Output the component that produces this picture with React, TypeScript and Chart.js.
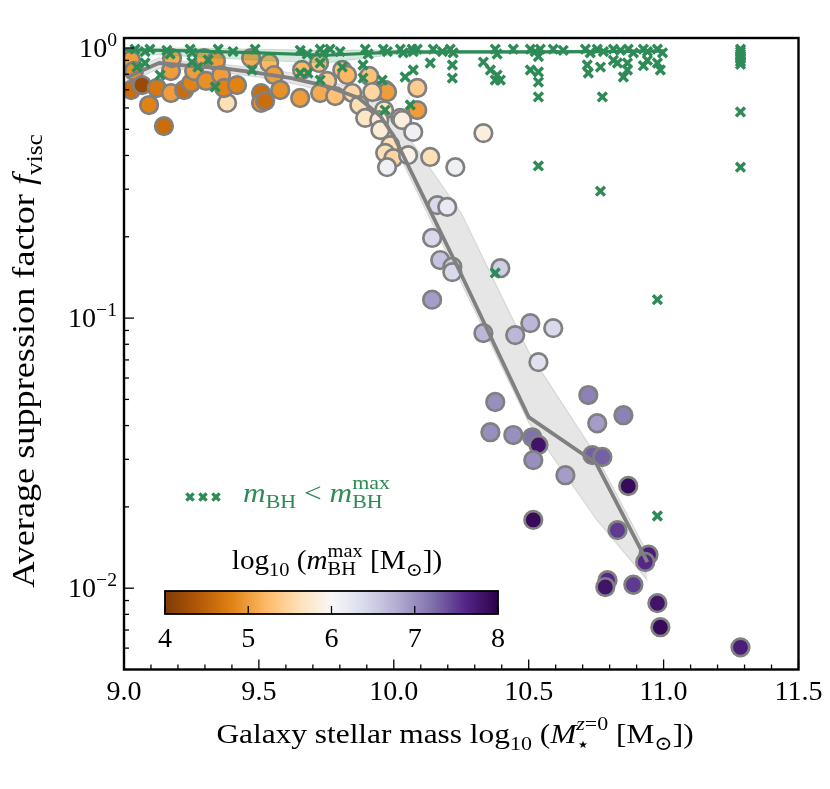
import React, { useEffect, useRef } from 'react';
import { Chart, registerables } from 'chart.js';
Chart.register(...registerables);

const SERIF = '"Liberation Serif", "DejaVu Serif", serif';
const GREEN = '#2e8b57';
const GRAY = '#808080';

// ---- circles: galaxies coloured by log10 m_BH^max ----
const massX = [9.026, 9.037, 9.026, 9.067, 9.093, 9.122, 9.148, 9.174, 9.174, 9.178,
  9.223, 9.249, 9.26, 9.297, 9.304, 9.341, 9.36, 9.382, 9.371, 9.419,
  9.471, 9.508, 9.508, 9.538, 9.556, 9.523, 9.579, 9.653, 9.66, 9.723,
  9.753, 9.727, 9.783, 9.809, 9.827, 9.846, 9.872, 9.909, 9.938, 9.968,
  9.964, 10.024, 9.894, 9.946, 9.975, 9.92, 10.087, 10.087, 10.031, 10.072,
  10.332, 9.95, 9.987, 9.968, 9.998, 10.053, 10.135, 9.975, 10.228, 10.161,
  10.198, 10.142, 10.172, 10.217, 10.217, 10.395, 10.142, 10.332, 10.45, 10.506,
  10.591, 10.536, 10.376, 10.721, 10.851, 10.754, 10.358, 10.443, 10.513, 10.536,
  10.517, 10.736, 10.773, 10.636, 10.869, 10.517, 10.829, 10.944, 10.932, 10.792,
  10.784, 10.888, 10.977, 10.988, 11.285];
const fviscY = [0.903, 0.822, 0.699, 0.729, 0.615, 0.711, 0.514, 0.681, 0.822, 0.918,
  0.699, 0.742, 0.822, 0.918, 0.755, 0.895, 0.794, 0.626, 0.711, 0.729,
  0.918, 0.681, 0.626, 0.88, 0.794, 0.636, 0.699, 0.653, 0.829, 0.88,
  0.755, 0.681, 0.664, 0.829, 0.794, 0.681, 0.615, 0.788, 0.693, 0.699,
  0.589, 0.551, 0.551, 0.541, 0.687, 0.687, 0.711, 0.589, 0.541, 0.489,
  0.484, 0.497, 0.437, 0.409, 0.391, 0.401, 0.395, 0.362, 0.362, 0.262,
  0.258, 0.198, 0.164, 0.155, 0.148, 0.153, 0.117, 0.088, 0.0865, 0.0958,
  0.0918, 0.0687, 0.0489, 0.0519, 0.0437, 0.0408, 0.0378, 0.0369, 0.0362, 0.0339,
  0.0298, 0.0311, 0.0306, 0.0262, 0.0239, 0.0179, 0.0164, 0.0133, 0.0125, 0.0107,
  0.0101, 0.0103, 0.0088, 0.00717, 0.00604];
const logMbhMax = [5.0, 4.9, 4.6, 4.2, 4.8, 4.7, 4.6, 5.0, 5.0, 5.1,
  4.6, 4.8, 5.0, 5.1, 4.9, 5.0, 5.0, 5.6, 4.8, 4.8,
  5.1, 4.6, 4.9, 5.2, 5.0, 4.6, 4.9, 5.0, 5.2, 5.3,
  5.4, 5.1, 5.3, 5.3, 5.2, 5.5, 5.6, 5.3, 5.4, 5.0,
  5.7, 5.9, 5.7, 5.8, 5.0, 5.5, 5.4, 5.0, 5.85, 6.1,
  5.85, 5.8, 5.6, 5.6, 5.5, 5.9, 5.6, 6.1, 6.1, 6.4,
  6.2, 6.4, 6.6, 6.5, 6.4, 6.5, 6.9, 6.7, 6.7, 6.7,
  6.4, 6.3, 7.0, 7.1, 7.1, 6.9, 7.0, 7.0, 7.2, 7.8,
  7.0, 7.3, 7.3, 6.9, 7.9, 7.9, 7.5, 7.7, 7.6, 7.6,
  7.8, 7.5, 7.8, 7.9, 7.7];

// ---- green crosses: m_BH < m_BH^max ----
const capX = [9.041, 9.078, 9.096, 9.159, 9.171, 9.245, 9.252, 9.349, 9.404, 9.486,
  9.653, 9.679, 9.727, 9.738, 9.764, 9.801, 9.894, 9.905, 9.961, 9.976,
  10.024, 10.035, 10.068, 10.072, 10.087, 10.146, 10.18, 10.209, 10.22, 10.376,
  10.383, 10.443, 10.506, 10.524, 10.543, 10.536, 10.591, 10.628, 10.71, 10.728,
  10.754, 10.777, 10.814, 10.84, 10.869, 10.888, 10.925, 10.94, 10.977, 10.996];
const capY = [0.99, 0.97, 0.99, 0.98, 0.95, 0.99, 0.96, 0.99, 0.97, 0.99,
  0.98, 0.95, 0.99, 0.96, 0.99, 0.97, 0.99, 0.95, 0.99, 0.97,
  0.99, 0.96, 0.99, 0.97, 0.99, 0.99, 0.97, 0.99, 0.96, 0.99,
  0.95, 0.99, 0.99, 0.97, 0.99, 0.93, 0.99, 0.98, 0.99, 0.96,
  0.99, 0.97, 0.99, 0.98, 0.99, 0.96, 0.99, 0.97, 0.99, 0.96];
const lowX = [9.048, 9.078, 9.134, 9.252, 9.274, 9.312, 9.338, 9.475, 9.653, 9.682,
  9.727, 9.727, 9.809, 9.886, 9.886, 9.957, 9.968, 10.042, 10.061, 10.072,
  10.135, 10.217, 10.217, 10.332, 10.358, 10.383, 10.395, 10.376, 10.506, 10.536,
  10.536, 10.536, 10.717, 10.721, 10.766, 10.773, 10.829, 10.866, 10.866, 10.851,
  10.977, 10.988, 10.814, 10.925, 10.94, 10.536, 10.766, 10.977, 10.376, 10.977,
  11.285, 11.285, 11.285, 11.285, 11.285, 11.285, 11.285, 11.285, 11.285];
const lowY = [0.85, 0.88, 0.794, 0.887, 0.85, 0.903, 0.717, 0.829, 0.808, 0.808,
  0.88, 0.761, 0.85, 0.865, 0.774, 0.761, 0.589, 0.781, 0.615, 0.829,
  0.88, 0.865, 0.774, 0.887, 0.829, 0.794, 0.761, 0.761, 0.829, 0.815,
  0.748, 0.659, 0.865, 0.808, 0.85, 0.659, 0.88, 0.88, 0.829, 0.781,
  0.88, 0.829, 0.9, 0.86, 0.9, 0.366, 0.295, 0.117, 0.147, 0.0185,
  0.99, 0.97, 0.95, 0.93, 0.91, 0.89, 0.87, 0.58, 0.362];

// ---- running medians with scatter bands ----
const medianX = [9.01, 9.13, 9.25, 9.37, 9.5, 9.62, 9.75, 9.87, 9.95, 10.0, 10.25, 10.5, 10.75, 10.94];
const medianY = [0.78, 0.88, 0.857, 0.84, 0.808, 0.774, 0.723, 0.653, 0.56, 0.472, 0.145, 0.043, 0.029, 0.0125];
const medianLo = [0.74, 0.84, 0.83, 0.81, 0.78, 0.74, 0.69, 0.61, 0.52, 0.44, 0.135, 0.041, 0.018, 0.0107];
const medianHi = [0.82, 0.92, 0.885, 0.87, 0.84, 0.81, 0.76, 0.7, 0.62, 0.56, 0.245, 0.075, 0.031, 0.0135];

const greenX = [9.0, 9.25, 9.5, 9.75, 10.0, 10.25, 10.5, 10.75, 11.0];
const greenY = [0.985, 0.975, 0.96, 0.94, 0.965, 0.967, 0.968, 0.97, 0.975];
const greenLo = [0.96, 0.93, 0.9, 0.88, 0.945, 0.955, 0.955, 0.96, 0.965];
const greenHi = [1.0, 1.0, 0.99, 0.98, 0.985, 0.98, 0.98, 0.98, 0.985];

// ---- ticks ----
const xTicks = [9.0, 9.5, 10.0, 10.5, 11.0, 11.5];
const xTickLabels = ['9.0', '9.5', '10.0', '10.5', '11.0', '11.5'];
const yTicks = [1, 0.1, 0.01];
const yTickExps = ['0', '\u22121', '\u22122'];
const cbarTicks = [4, 5, 6, 7, 8];
const cbarTickLabels = ['4', '5', '6', '7', '8'];

const PUOR = ['#7f3b08', '#b35806', '#e08214', '#fdb863', '#fee0b6', '#f7f7f7',
  '#d8daeb', '#b2abd2', '#8073ac', '#542788', '#2d004b'];

function hexToRgb(h: string) {
  return [parseInt(h.slice(1, 3), 16), parseInt(h.slice(3, 5), 16), parseInt(h.slice(5, 7), 16)];
}
function cmap(v: number) {
  const t = Math.min(1, Math.max(0, (v - 4) / 4));
  const p = t * (PUOR.length - 1);
  const i = Math.min(PUOR.length - 2, Math.floor(p));
  const f = p - i;
  const a = hexToRgb(PUOR[i]);
  const b = hexToRgb(PUOR[i + 1]);
  const c = a.map((av, k) => Math.round(av + (b[k] - av) * f));
  return `rgb(${c[0]},${c[1]},${c[2]})`;
}

type Seg = { t: string; it?: boolean; s?: number; dy?: number; mark?: boolean; reset?: boolean; end?: boolean };

function layoutRich(ctx: CanvasRenderingContext2D, segs: Seg[], size: number, draw: boolean) {
  let x = 0, markX = 0, gmax = 0;
  for (const sg of segs) {
    const fs = size * (sg.s ?? 1);
    ctx.font = `${sg.it ? 'italic ' : ''}${fs}px ${SERIF}`;
    if (sg.mark) { markX = x; gmax = x; }
    if (sg.reset) { gmax = Math.max(gmax, x); x = markX; }
    const w = ctx.measureText(sg.t).width;
    if (draw) ctx.fillText(sg.t, x, (sg.dy ?? 0) * size);
    x += w;
    if (sg.end) x = Math.max(x, gmax);
  }
  return x;
}
function drawRich(ctx: CanvasRenderingContext2D, segs: Seg[], x: number, y: number, size: number,
  align: string, color: string, k = 1) {
  ctx.save();
  ctx.fillStyle = color;
  ctx.textBaseline = 'alphabetic';
  ctx.textAlign = 'left';
  const w = layoutRich(ctx, segs, size, false) * k;
  const sx = align === 'center' ? x - w / 2 : align === 'right' ? x - w : x;
  ctx.translate(sx, y);
  ctx.scale(k, 1);
  layoutRich(ctx, segs, size, true);
  ctx.restore();
}

const TICK_FS = 27, TICK_K = 1.04;

const decor = {
  id: 'decor',
  afterDraw(chart: any) {
    const { ctx, chartArea: a, scales } = chart;
    const xs = scales.x, ys = scales.y;
    ctx.save();
    ctx.strokeStyle = '#000';
    ctx.lineWidth = 1.3;
    const line = (x1: number, y1: number, x2: number, y2: number) => {
      ctx.beginPath(); ctx.moveTo(x1, y1); ctx.lineTo(x2, y2); ctx.stroke();
    };
    // x ticks
    for (let k = 91; k < 115; k++) {
      if (k % 5 === 0) continue;
      const px = xs.getPixelForValue(k / 10);
      line(px, a.bottom, px, a.bottom - 5);
    }
    xTicks.forEach((v) => {
      const px = xs.getPixelForValue(v);
      line(px, a.bottom, px, a.bottom - 10);
    });
    // y ticks
    for (const e of [-3, -2, -1, 0]) {
      for (let m = 2; m <= 9; m++) {
        const v = m * Math.pow(10, e);
        if (v < ys.min || v > ys.max) continue;
        const py = ys.getPixelForValue(v);
        line(a.left, py, a.left + 5, py);
      }
    }
    yTicks.forEach((v) => {
      const py = ys.getPixelForValue(v);
      line(a.left, py, a.left + 10, py);
    });
    // frame
    ctx.lineWidth = 2.4;
    ctx.strokeRect(a.left, a.top, a.right - a.left, a.bottom - a.top);

    // tick labels
    xTicks.forEach((v, i) => {
      drawRich(ctx, [{ t: xTickLabels[i] }], xs.getPixelForValue(v), a.bottom + 30, TICK_FS, 'center', '#000', TICK_K);
    });
    yTicks.forEach((v, i) => {
      const py = ys.getPixelForValue(v);
      drawRich(ctx, [{ t: '10' }, { t: yTickExps[i], s: 0.7, dy: -0.42 }], a.left - 7, py + 9, TICK_FS, 'right', '#000', TICK_K);
    });

    // axis titles
    drawRich(ctx, [
      { t: 'Galaxy stellar mass log' }, { t: '10', s: 0.7, dy: 0.25 }, { t: ' (' },
      { t: 'M', it: true }, { t: '\u22c6', s: 0.7, dy: 0.3, mark: true },
      { t: 'z', it: true, s: 0.7, dy: -0.45, reset: true }, { t: '=0', s: 0.7, dy: -0.45, end: true },
      { t: ' [M' }, { t: '\u2299', s: 0.7, dy: 0.25 }, { t: '])' },
    ], 455, 743, 28, 'center', '#000', 1.12);

    ctx.save();
    ctx.translate(34, 361);
    ctx.rotate(-Math.PI / 2);
    drawRich(ctx, [{ t: 'Average suppression factor ' }, { t: 'f', it: true }, { t: 'visc', s: 0.7, dy: 0.25 }],
      0, 0, 31.5, 'center', '#000', 1.15);
    ctx.restore();

    // legend for crosses
    ctx.strokeStyle = GREEN;
    ctx.lineWidth = 3.4;
    [190, 203, 216].forEach((cx) => {
      const cy = 497, d = 3.6;
      line(cx - d, cy - d, cx + d, cy + d);
      line(cx - d, cy + d, cx + d, cy - d);
    });
    drawRich(ctx, [
      { t: 'm', it: true }, { t: 'BH', s: 0.7, dy: 0.22 }, { t: ' < ' },
      { t: 'm', it: true }, { t: 'BH', s: 0.7, dy: 0.22, mark: true }, { t: 'max', s: 0.7, dy: -0.45, reset: true, end: true },
    ], 243, 502, 28, 'left', GREEN, 1.12);

    // colorbar
    const cl = 165, cr = 498, ct = 591, cb = 614;
    const g = ctx.createLinearGradient(cl, 0, cr, 0);
    for (let i = 0; i <= 40; i++) g.addColorStop(i / 40, cmap(4 + (4 * i) / 40));
    ctx.fillStyle = g;
    ctx.fillRect(cl, ct, cr - cl, cb - ct);
    ctx.strokeStyle = '#000';
    ctx.lineWidth = 1.8;
    ctx.strokeRect(cl, ct, cr - cl, cb - ct);
    ctx.lineWidth = 1.3;
    cbarTicks.forEach((v, i) => {
      const px = cl + ((v - 4) / 4) * (cr - cl);
      line(px, cb, px, cb - 8);
      drawRich(ctx, [{ t: cbarTickLabels[i] }], px, 647, TICK_FS, 'center', '#000', TICK_K);
    });
    drawRich(ctx, [
      { t: 'log' }, { t: '10', s: 0.7, dy: 0.25 }, { t: ' (' },
      { t: 'm', it: true }, { t: 'BH', s: 0.7, dy: 0.22, mark: true }, { t: 'max', s: 0.7, dy: -0.45, reset: true, end: true },
      { t: ' [M' }, { t: '\u2299', s: 0.7, dy: 0.25 }, { t: '])' },
    ], 337, 569, 27, 'center', '#000', 1.08);
    ctx.restore();
  },
};

const pts = (xv: number[], yv: number[]) => xv.map((x, i) => ({ x, y: yv[i] }));

export default function App() {
  const ref = useRef<HTMLCanvasElement | null>(null);
  useEffect(() => {
    document.body.style.margin = '0';
    const canvas = ref.current;
    if (!canvas) return;
    const chart = new Chart(canvas, {
      type: 'scatter',
      data: {
        datasets: [
          {
            type: 'scatter', data: pts(capX.concat(lowX), capY.concat(lowY)),
            pointStyle: 'crossRot', pointRadius: 6.3, pointBorderWidth: 3.4,
            pointBorderColor: GREEN, pointBackgroundColor: GREEN, clip: 0,
          } as any,
          {
            type: 'line', data: pts(greenX, greenY), borderColor: GREEN, borderWidth: 3.2,
            pointRadius: 0, fill: false, clip: 0,
          } as any,
          {
            type: 'line', data: pts(greenX, greenHi), borderColor: 'rgba(46,139,87,0.2)', borderWidth: 1,
            pointRadius: 0, backgroundColor: 'rgba(46,139,87,0.2)', fill: '+1', clip: 0,
          } as any,
          {
            type: 'line', data: pts(greenX, greenLo), borderColor: 'rgba(46,139,87,0.2)', borderWidth: 1,
            pointRadius: 0, fill: false, clip: 0,
          } as any,
          {
            type: 'line', data: pts(medianX, medianY), borderColor: GRAY, borderWidth: 3.8,
            borderJoinStyle: 'round', pointRadius: 0, fill: false, clip: 0,
          } as any,
          {
            type: 'scatter', data: pts(massX, fviscY), pointRadius: 8.8, pointBorderWidth: 2.7,
            pointBorderColor: GRAY, pointBackgroundColor: logMbhMax.map(cmap), clip: 0,
          } as any,
          {
            type: 'line', data: pts(medianX, medianHi), borderColor: 'rgba(128,128,128,0.22)', borderWidth: 1.2,
            pointRadius: 0, backgroundColor: 'rgba(128,128,128,0.2)', fill: '+1', clip: 0,
          } as any,
          {
            type: 'line', data: pts(medianX, medianLo), borderColor: 'rgba(128,128,128,0.22)', borderWidth: 1.2,
            pointRadius: 0, fill: false, clip: 0,
          } as any,
        ],
      },
      options: {
        responsive: false,
        animation: false,
        events: [],
        layout: { padding: { left: 124, right: 31.5, top: 38, bottom: 119.5 } },
        plugins: { legend: { display: false }, tooltip: { enabled: false } },
        scales: {
          x: { type: 'linear', min: 9, max: 11.5, display: false },
          y: { type: 'logarithmic', min: 0.005, max: 1.089, display: false },
        },
      } as any,
      plugins: [decor],
    });
    return () => chart.destroy();
  }, []);
  return (
    <div style={{ width: 830, height: 789, background: '#fff' }}>
      <canvas ref={ref} width={830} height={789} style={{ display: 'block', width: 830, height: 789 }} />
    </div>
  );
}
